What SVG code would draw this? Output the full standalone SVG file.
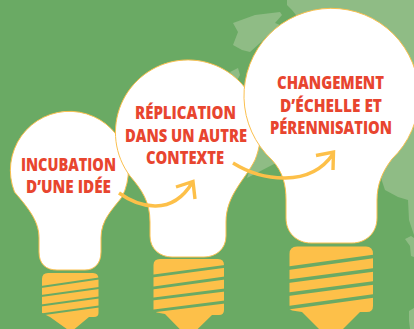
<svg xmlns="http://www.w3.org/2000/svg" width="414" height="329" viewBox="0 0 414 329">
<style>
.bulb{fill:#fff;stroke:#fbc04f;stroke-width:1}
.base{fill:#fdc049}
.gap{stroke:#6aaa64;fill:none}
.map{fill:#8fbc85}
.t{font-family:"Open Sans","Liberation Sans",sans-serif;font-weight:800;font-size:18px;fill:#e8452f}
.arrow{fill:none;stroke:#fdc049;stroke-width:3.4}
</style>
<rect width="414" height="329" fill="#6aaa64"/>
<g id="map">
<path class="map" d="M287,0V5L292,10L300,20H414V235L409,220L408,200L398,197L385,190L381,178L392,150V0Z"/>
<path class="map" d="M300,0H414V120H300Z"/>
<path class="map" d="M233,23L255,15L280,12L282,15L275,23L280,25L250,52L242,50L233,45L238,32Z"/>
<path class="map" d="M230,72L238,68L240,75L236,82Z"/>
<path class="map" d="M258,142L276,163L247,178Z"/>
<path class="map" d="M405,239L411,236L414,238V257L411,256L410,246Z"/>
<path class="map" d="M409,311L414,308V329H410L409,321Z"/>
</g>
<g id="bulb-1">
<path class="bulb" d="M14.5,192A59,59 0 1 1 122,197C112,210 101,220 101,238V252C101,264 94,270 85,270H57C46,270 39,264 39,252V238C39,222 30,210 14.5,192Z"/>
<path class="base" d="M42,279Q42,273 48,273H93Q98.5,273 98.5,279V313Q98.5,317 94,317H89L71,332L50,317L45,314.5L42,313Z"/>
<path class="gap" stroke-width="2.2" d="M41,287L99,278.5M41,296L99,288M41,305.5L99,297.5M41,314.5L99,306.5"/>
<text class="t" x="68.5" y="171" text-anchor="middle" textLength="95" lengthAdjust="spacingAndGlyphs">INCUBATION</text>
<text class="t" x="68.5" y="192.7" text-anchor="middle" textLength="85" lengthAdjust="spacingAndGlyphs">D’UNE IDÉE</text>
</g>
<g id="bulb-2">
<path class="bulb" d="M130,176A72.5,72.5 0 1 1 255,160C245,180 226,195 226,222V236C226,249 216,257 204,257H172C160,257 150,249 150,236V222C150,202 142,190 130,176Z"/>
<path class="base" d="M153.5,265Q153.5,259 160,259H218Q224,259 224,265V310Q224,315 219,315H212L188.5,338L165,314L157,312.5L153.5,311Z"/>
<path class="gap" stroke-width="2.8" d="M152,276.2L225,266.3M152,288.2L225,278M152,299.2L225,290M152,311.2L225,302"/>
<text class="t" x="185.5" y="118.7" text-anchor="middle" textLength="101" lengthAdjust="spacingAndGlyphs">RÉPLICATION</text>
<text class="t" x="186" y="141.5" text-anchor="middle" textLength="122" lengthAdjust="spacingAndGlyphs">DANS UN AUTRE</text>
<text class="t" x="185" y="164" text-anchor="middle" textLength="78" lengthAdjust="spacingAndGlyphs">CONTEXTE</text>
</g>
<g id="bulb-3">
<path class="bulb" d="M272,160A87.5,87.5 0 1 1 392,159C382,172 377,185 377,200V218C377,233 366,243 352,243H311C297,243 286,233 286,218V200C286,185 283,172 272,160Z"/>
<path class="base" d="M289.5,254Q289.5,246.5 297,246.5H366Q373,246.5 373,254V306Q373,312 367,312H360L331,341L302,312L292,310.5L289.5,309Z"/>
<path class="gap" stroke-width="3.6" d="M288,268.2L375,256.2M288,281.2L375,269.7M288,294.2L375,282.7M288,307.7L375,295.7"/>
<text class="t" x="330.5" y="89.3" text-anchor="middle" textLength="107" lengthAdjust="spacingAndGlyphs">CHANGEMENT</text>
<text class="t" x="331" y="111.7" text-anchor="middle" textLength="102" lengthAdjust="spacingAndGlyphs">D’ÉCHELLE ET</text>
<text class="t" x="331" y="134.3" text-anchor="middle" textLength="122" lengthAdjust="spacingAndGlyphs">PÉRENNISATION</text>
</g>
<g id="connectors">
<path class="arrow" d="M119,193C140,208 172,216 192,183M176,187L193,181.5L195,199"/>
<path class="arrow" d="M233,163C262,181 310,188 333,154M316,155.5L333.5,152L333,170"/>
</g>
</svg>
